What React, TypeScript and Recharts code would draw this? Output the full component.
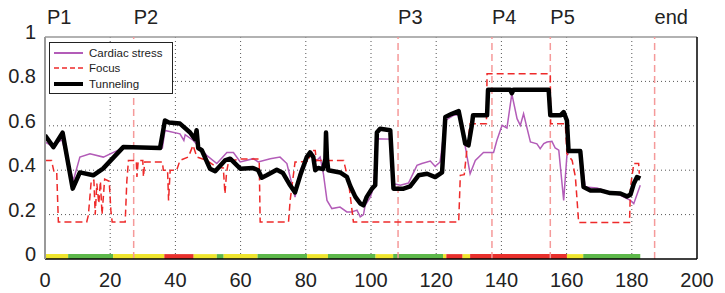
import React from 'react';
import {
  LineChart,
  Line,
  XAxis,
  YAxis,
  CartesianGrid,
  ReferenceLine,
  ReferenceArea,
  Legend,
} from 'recharts';

const FONT = '"Liberation Sans", Arial, Helvetica, sans-serif';

// ---- axes ----
const xTicks = [0, 20, 40, 60, 80, 100, 120, 140, 160, 180, 200];
const yTicks = [0, 0.2, 0.4, 0.6, 0.8, 1];
const yTickLabels = ['0', '0.2', '0.4', '0.6', '0.8', '1'];

// ---- events (phase markers) ----
const eventTimes = [0, 27.2, 108.3, 137.1, 155.0, 187.0];
const eventLabels = ['P1', 'P2', 'P3', 'P4', 'P5', 'end'];

// ---- state bar along the bottom ----
const stateStarts = [0, 7.1, 20.9, 36.6, 45.6, 52.7, 54.8, 65.2, 80.4, 86.8, 101.4, 106.8, 122.1, 123.1, 128.1, 130.4, 160.1, 165.1];
const stateEnds = [7.1, 20.9, 36.6, 45.6, 52.7, 54.8, 65.2, 80.4, 86.8, 101.4, 106.8, 122.1, 123.1, 128.1, 130.4, 160.1, 165.1, 182.6];
const stateKinds = ['y', 'g', 'y', 'r', 'y', 'g', 'y', 'g', 'y', 'g', 'y', 'g', 'y', 'r', 'y', 'r', 'y', 'g'];
const stateColors: Record<string, string> = { y: '#efe52e', g: '#5db84a', r: '#e8302c' };

// ---- series: [time, value] ----
const cardiacStress: [number, number][] = [
  [0, 0.527], [2, 0.51], [5.2, 0.537], [8.7, 0.354], [10.7, 0.459], [13.8, 0.474], [17.9, 0.459],
  [21, 0.48], [24, 0.5], [36, 0.5], [36.8, 0.579], [41.4, 0.564], [42.6, 0.534], [43, 0.56],
  [45.5, 0.534], [47.5, 0.5], [49.6, 0.467], [52.7, 0.43], [55.8, 0.48], [57.8, 0.48], [59.9, 0.437],
  [63.9, 0.452], [65.4, 0.437], [69.1, 0.452], [72.1, 0.459], [74.2, 0.43], [76.7, 0.279], [78.3, 0.4],
  [80.3, 0.459], [81.9, 0.48], [82.9, 0.437], [84.4, 0.459], [85.4, 0.384], [86.5, 0.264], [88, 0.227],
  [90.5, 0.234], [92.6, 0.212], [94.1, 0.212], [95.7, 0.22], [96.7, 0.19], [97.7, 0.2], [98.2, 0.242],
  [99.8, 0.279], [100.8, 0.324], [101.8, 0.542], [105.9, 0.54], [106.9, 0.339], [109, 0.332],
  [111.5, 0.342], [114.1, 0.422], [115.6, 0.43], [118.2, 0.441], [119.7, 0.417], [121.2, 0.437],
  [122.8, 0.624], [125.3, 0.647], [126.9, 0.65], [127.9, 0.579], [128.9, 0.507], [130.4, 0.384],
  [132, 0.444], [134.5, 0.48], [137.6, 0.48], [138.6, 0.534], [140.2, 0.602], [141.7, 0.59],
  [143.2, 0.744], [144.8, 0.632], [145.8, 0.602], [146.8, 0.654], [147.9, 0.587], [148.9, 0.527],
  [150.9, 0.519], [151.9, 0.497], [153, 0.52], [154, 0.527], [155.5, 0.53], [156.5, 0.5], [157.6, 0.49],
  [159.1, 0.264], [160.1, 0.467], [161.1, 0.492], [164.2, 0.492], [165.7, 0.324], [169.3, 0.32],
  [173.4, 0.3], [176.5, 0.287], [179.6, 0.264], [180.6, 0.249], [182.6, 0.332],
];

const focus: [number, number][] = [
  [0, 0.444], [2, 0.444], [2.8, 0.39], [3.6, 0.39], [4.1, 0.167], [12.8, 0.167], [13.3, 0.197],
  [14.2, 0.355], [15, 0.355], [15.4, 0.2], [15.9, 0.34], [16.5, 0.25], [17, 0.35], [17.5, 0.2],
  [18.3, 0.36], [19.7, 0.35], [20.2, 0.22], [20.6, 0.167], [24.6, 0.167], [25.1, 0.35], [25.6, 0.444],
  [28, 0.444], [28.2, 0.37], [28.6, 0.444], [30, 0.444], [30.2, 0.37], [30.6, 0.437], [36, 0.437],
  [36.3, 0.4], [37.6, 0.4], [37.9, 0.264], [38.4, 0.4], [40.4, 0.4], [41.4, 0.444], [44, 0.46],
  [45.4, 0.512], [46.6, 0.459], [49.6, 0.444], [52.7, 0.414], [54.7, 0.41], [55.2, 0.294], [55.7, 0.39],
  [56.3, 0.44], [60, 0.45], [65.7, 0.45], [66, 0.167], [74.7, 0.167], [75.2, 0.264], [76.7, 0.437],
  [81, 0.44], [81.3, 0.489], [82.9, 0.489], [83.2, 0.444], [91.6, 0.444], [93.1, 0.35], [94.6, 0.167],
  [126.9, 0.167], [127.4, 0.377], [128.6, 0.38], [129.5, 0.504], [130.4, 0.609], [135.4, 0.609],
  [135.6, 0.834], [155, 0.834], [155.1, 0.609], [159.6, 0.609], [160.1, 0.474], [161.7, 0.444],
  [162.7, 0.369], [163.7, 0.164], [179.3, 0.164], [179.6, 0.324], [180.6, 0.43], [182.1, 0.43],
  [182.3, 0.384],
];

const tunneling: [number, number][] = [
  [0, 0.557], [2.6, 0.504], [5.4, 0.569], [8.5, 0.317], [10.7, 0.39], [14.8, 0.377], [17.8, 0.407],
  [24, 0.504], [35.3, 0.5], [36.8, 0.624], [38, 0.615], [41.4, 0.61], [44.5, 0.57], [46, 0.54],
  [46.5, 0.58], [47, 0.5], [48.1, 0.49], [50.6, 0.407], [52.2, 0.395], [55.2, 0.444], [56.8, 0.452],
  [59.9, 0.407], [63.8, 0.41], [65.4, 0.4], [66.5, 0.366], [68, 0.377], [71.1, 0.402], [73, 0.387],
  [75.2, 0.332], [76.7, 0.3], [78.3, 0.377], [80.3, 0.459], [81.3, 0.48], [82.3, 0.459], [82.9, 0.4],
  [83.8, 0.41], [85.3, 0.405], [86, 0.45], [86.2, 0.57], [86.5, 0.45], [86.9, 0.4], [90.5, 0.39],
  [92.6, 0.37], [93.6, 0.33], [95.2, 0.28], [96.7, 0.25], [97.7, 0.242], [98.7, 0.28], [100.3, 0.317],
  [101.3, 0.332], [101.8, 0.57], [102.8, 0.587], [105.9, 0.58], [106.9, 0.317], [110, 0.317],
  [112, 0.327], [114.6, 0.377], [117.2, 0.384], [119.7, 0.369], [121.8, 0.39], [122.8, 0.64],
  [124.8, 0.654], [126.9, 0.666], [127.9, 0.594], [128.9, 0.52], [129.9, 0.512], [131, 0.609],
  [131.3, 0.647], [135.6, 0.647], [135.9, 0.762], [142.7, 0.762], [143.2, 0.747], [143.7, 0.762],
  [154.5, 0.762], [155, 0.647], [158.1, 0.647], [159.1, 0.662], [160.1, 0.624], [160.6, 0.486],
  [164.2, 0.486], [165.2, 0.324], [167.3, 0.309], [170.3, 0.309], [173.4, 0.297], [176.5, 0.295],
  [178.5, 0.282], [179.6, 0.29], [180.6, 0.339], [181.6, 0.369], [182.6, 0.362],
];

const toRows = (pts: [number, number][]) => pts.map(([t, v]) => ({ t, v }));

const PURPLE = '#b35cb8';
const RED = '#ee2a2a';
const PINK = '#f59a9a';

const legendItems = [
  { name: 'Cardiac stress', color: PURPLE, width: 2, dash: undefined as string | undefined },
  { name: 'Focus', color: RED, width: 1.6, dash: '5 3' },
  { name: 'Tunneling', color: '#000', width: 4, dash: undefined as string | undefined },
];

const LegendBox = () => (
  <div
    style={{
      width: 124,
      height: 52,
      border: '1px solid #222',
      background: '#fff',
      boxSizing: 'border-box',
      fontFamily: FONT,
      fontSize: 11.5,
      color: '#222',
      position: 'relative',
    }}
  >
    {legendItems.map((it, i) => (
      <div
        key={it.name}
        style={{
          position: 'absolute',
          left: 4,
          top: 2 + i * 15.5,
          height: 15,
          display: 'flex',
          alignItems: 'center',
          whiteSpace: 'nowrap',
        }}
      >
        <svg width={30} height={10}>
          <line x1={0} y1={5} x2={29} y2={5} stroke={it.color} strokeWidth={it.width} strokeDasharray={it.dash} />
        </svg>
        <span style={{ marginLeft: 5 }}>{it.name}</span>
      </div>
    ))}
  </div>
);

const XTick = (props: any) => {
  const { x, payload } = props;
  return (
    <text x={x} y={287} textAnchor="middle" fontFamily={FONT} fontSize={20} fill="#222">
      {payload.value}
    </text>
  );
};

const YTick = (props: any) => {
  const { y, payload } = props;
  const idx = yTicks.indexOf(payload.value);
  return (
    <text x={36} y={y + 2} textAnchor="end" fontFamily={FONT} fontSize={20} fill="#222">
      {idx >= 0 ? yTickLabels[idx] : payload.value}
    </text>
  );
};

const makeEventLabel = (text: string) => (props: any) => {
  const vb = props.viewBox || {};
  return (
    <text x={vb.x + (text === 'P1' ? 2 : 0)} y={24} textAnchor="start" fontFamily={FONT} fontSize={20} fill="#222">
      {text}
    </text>
  );
};

export default function App() {
  return (
    <div style={{ position: 'absolute', left: 0, top: 0, width: 725, height: 293, background: '#fff' }}>
      <LineChart width={725} height={293} margin={{ top: 37, right: 28, bottom: 0, left: 0 }}>
        <CartesianGrid
          stroke="#555"
          strokeDasharray="1 3"
          horizontalValues={[0.2, 0.4, 0.6, 0.8]}
          verticalValues={[20, 40, 60, 80, 100, 120, 140, 160, 180]}
        />
        <XAxis
          type="number"
          dataKey="t"
          domain={[0, 200]}
          ticks={xTicks}
          tick={<XTick />}
          tickLine={false}
          axisLine={{ stroke: '#000', strokeWidth: 1.5 }}
          height={34}
          allowDataOverflow
        />
        <YAxis
          type="number"
          dataKey="v"
          domain={[0, 1]}
          ticks={yTicks}
          tick={<YTick />}
          tickLine={false}
          axisLine={{ stroke: '#999', strokeWidth: 2 }}
          width={45}
          allowDataOverflow
        />
        <ReferenceLine y={1} stroke="#999" strokeWidth={1.5} />
        <ReferenceLine x={200} stroke="#000" strokeWidth={1.5} />

        {stateStarts.map((s, i) => (
          <ReferenceArea
            key={'st' + i}
            x1={s}
            x2={stateEnds[i]}
            y1={0}
            y2={0.022}
            fill={stateColors[stateKinds[i]]}
            fillOpacity={1}
            stroke="none"
          />
        ))}

        {eventTimes.map((t, i) => (
          <ReferenceLine
            key={'ev' + i}
            x={t}
            stroke={i === 0 ? 'none' : PINK}
            strokeWidth={1.5}
            strokeDasharray="7 4"
            label={makeEventLabel(eventLabels[i])}
          />
        ))}

        <Line
          data={toRows(cardiacStress)}
          dataKey="v"
          name="Cardiac stress"
          stroke={PURPLE}
          strokeWidth={1.5}
          dot={false}
          isAnimationActive={false}
          type="linear"
        />
        <Line
          data={toRows(focus)}
          dataKey="v"
          name="Focus"
          stroke={RED}
          strokeWidth={1.5}
          strokeDasharray="7 4"
          dot={false}
          isAnimationActive={false}
          type="linear"
        />
        <Line
          data={toRows(tunneling)}
          dataKey="v"
          name="Tunneling"
          stroke="#000"
          strokeWidth={4.5}
          strokeLinejoin="round"
          dot={false}
          isAnimationActive={false}
          type="linear"
        />
        <Legend
          layout="horizontal"
          verticalAlign="middle"
          align="center"
          content={() => <LegendBox />}
          wrapperStyle={{ position: 'absolute', left: 49, top: 42, width: 124, height: 52 }}
        />
      </LineChart>
    </div>
  );
}
